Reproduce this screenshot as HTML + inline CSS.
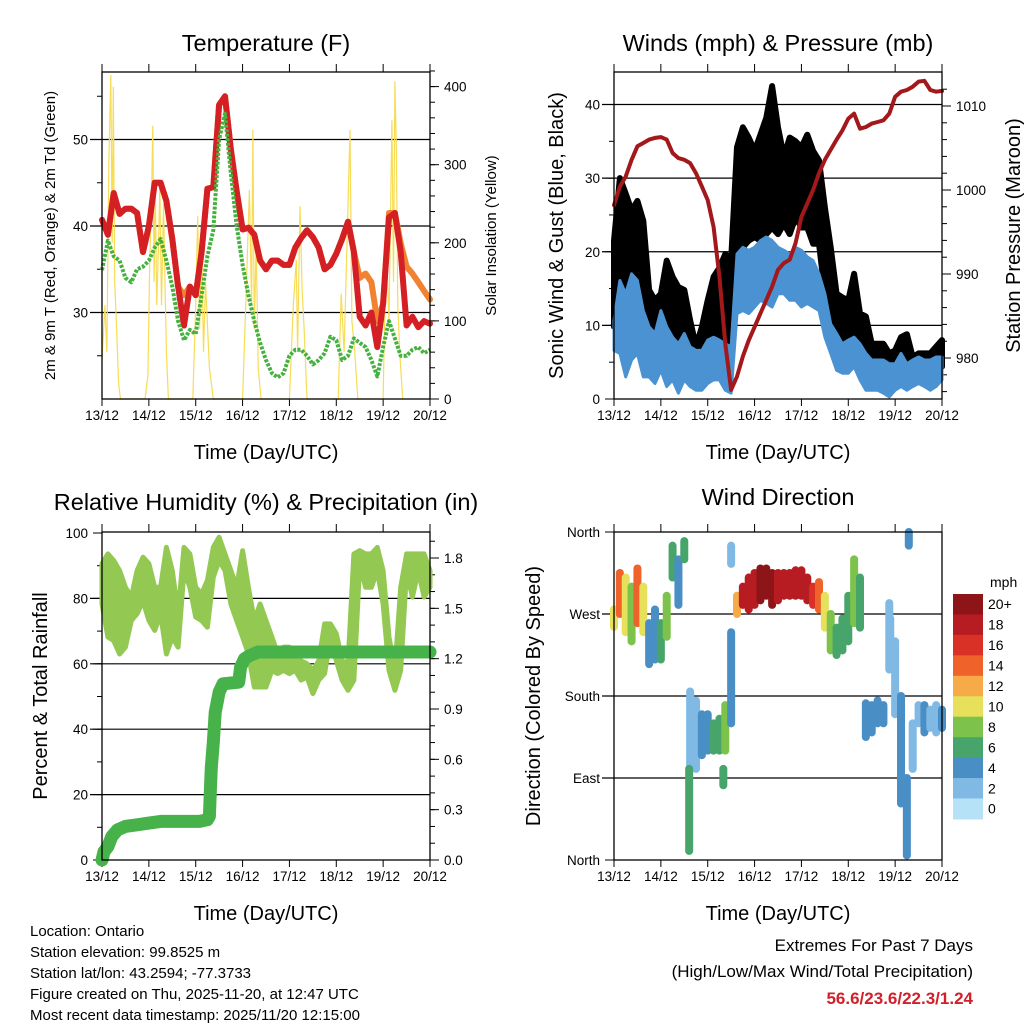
<!DOCTYPE html>
<html><head><meta charset="utf-8"><style>
html,body{margin:0;padding:0;background:#fff;}
svg{display:block;font-family:"Liberation Sans",sans-serif;}
</style></head><body>
<svg id="chart" width="1024" height="1024" viewBox="0 0 1024 1024" xmlns="http://www.w3.org/2000/svg">
<rect x="0" y="0" width="1024" height="1024" fill="#fff"/>
<g id="layer"></g>
<g font-size="15" fill="#000">
<text x="30" y="936">Location: Ontario</text>
<text x="30" y="957">Station elevation: 99.8525 m</text>
<text x="30" y="978">Station lat/lon: 43.2594; -77.3733</text>
<text x="30" y="999">Figure created on Thu, 2025-11-20, at 12:47 UTC</text>
<text x="30" y="1020">Most recent data timestamp: 2025/11/20 12:15:00</text>
</g>
<g text-anchor="end" font-size="17">
<text x="973" y="951">Extremes For Past 7 Days</text>
<text x="973" y="977">(High/Low/Max Wind/Total Precipitation)</text>
<text x="973" y="1004" font-weight="bold" fill="#d0202a">56.6/23.6/22.3/1.24</text>
</g>
</svg>
<script>
// ---------- data ----------
const dayLabels = ["13/12","14/12","15/12","16/12","17/12","18/12","19/12","20/12"];
const temp2m = [40.7,39,43.8,41.4,42,42,41.5,37,40,45,45,42.9,38.5,33,28.5,33,32,37,44.3,44.5,54,55,48.8,44,39.6,39.8,39,36,35,36,36,35.5,35.5,37.5,38.6,39.5,38.7,37.5,35,35.5,36.8,38.5,40.5,37,29.5,28.5,30,26,31,41,41.5,37,28.5,29.5,28.3,29,28.7];
const temp9m = [40.7,39,43.8,41.4,42,42,41.5,37,40,45,45,42.9,38.5,33,32,33,32,37,44.3,44.5,54,55,48.8,44,39.6,39.8,39,36,35,36,36,35.5,35.5,37.5,38.6,39.5,38.7,37.5,35,35.5,36.8,38.5,40.5,37,34,34.5,33.5,29,31,41.5,41.5,38,35.3,34.5,33.5,32.5,31.5];
const dew2m = [34.9,38.3,36.5,36,34,33.5,35,35.3,36,37.5,38.5,36,33,29,26.8,28,27.5,32,36.5,39.5,50,53,46,40,35.5,32,29,26.5,24.5,23,22.5,23,25,25.7,25.7,25,24,24.5,25.3,27.2,26.8,24.5,25,27,26.5,26,24.5,22.6,26,29,27,25,25,25.7,26,25.3,25.7];
const solarHours = [0,1.5,2.5,3.5,4.5,5.2,5.8,6.5,7.5,8.5,9.5, 22,23.5,24.5,25.5,26,26.7,27.3,28,29,29.6,30.5,31.5,33,34, 46.5,48,49,50,51,52,53,55,57, 72,74,75.5,76.6,77.3,78,79,80,81.5, 96,98,99.5,100.2,101.4,102.5,103.5,105, 121,122.5,124,125.5,127,128,129.5,131, 144,145.5,147,148.5,149.3,150,150.8,151.5,152.5,154];
const solarVals  = [50,120,60,300,415,200,400,150,90,20,0, 0,30,180,280,350,150,270,120,200,272,120,250,60,0, 0,120,234,90,204,60,150,40,0, 0,150,268,120,345,90,200,40,0, 0,120,178,60,247,140,90,0, 0,135,60,200,345,100,60,0, 0,200,100,357,150,407,315,120,60,0];
const pressure = [998.2,1000.4,1001.6,1003.6,1005.2,1005.6,1006,1006.2,1006.3,1006,1004.4,1003.8,1003.6,1003.2,1002,1000.4,998.8,995.6,989.7,981.7,976.2,977.8,980.2,982.1,983.7,985.3,986.9,988.5,990.5,991.3,991.7,993.7,996.8,998.4,1000,1002,1003.6,1004.8,1006,1007.1,1008.5,1009.1,1007.3,1007.5,1007.9,1008.1,1008.3,1009.1,1011.1,1011.7,1011.9,1012.3,1012.9,1013,1011.9,1011.7,1011.8];
const windHi = [10.7,16.1,14.3,17,16.1,12,9.8,8.9,12,9.8,8.4,7.5,8.9,7.1,6.6,6.6,8,8.4,8,7.5,7.1,19.7,20.6,20.2,20.6,21.5,22,21.5,20.6,20.2,19.7,20.6,20.2,19.3,18.8,17,14.3,10.2,8.9,7.5,8,8.4,7.5,6.2,5.3,5.3,5.3,4.8,4.8,6.2,4.8,5.3,5.7,5.3,5.3,5.7,5.7];
const windLo = [6.6,6.2,3,5.3,6.2,3,3,2.1,3.9,1.7,2.6,0.8,2.6,1.7,1.2,1.2,2.1,2.6,2.6,1.2,0.8,11.6,12,11.6,12.5,13.4,13,12.5,14.3,14.3,13.4,13.4,12.5,13,12.5,12,8.4,6.2,3.9,3.5,3.5,4.4,2.6,1.2,1.2,1.2,0.8,0.3,1.2,1.7,1.2,1.7,2.1,1.7,1.2,1.7,2.6];
const gustHi = [21.5,30,27.9,25.6,26.9,24.2,14.8,13.4,14.3,18.8,16.6,15.2,14.8,10.7,7.1,9.8,13.4,16.6,17.8,19.7,18.8,34.2,36.9,35.5,33.7,35.9,38.2,42.5,36.9,32.9,35.5,35,34.2,35.9,33.7,32.4,26,20.6,14.3,13.8,13.4,17,11.6,11.2,7.5,7.5,7.5,6.2,6.6,8.4,8.8,5.7,6.2,6.2,6.2,7.1,8];
const gustLo = [9.8,9.8,10.7,14.3,14.3,14.3,6.2,5.3,6.2,9.8,7.5,5.3,5.3,3.9,3,3.9,5.3,7.5,8,7.5,6.2,18.8,20.6,21.5,22,21.5,22.4,23.3,22.4,23.8,22.4,24.7,23.3,23.3,21.1,21.1,14.3,10.7,8.4,7.5,7.1,7.1,6.2,5.3,4.4,3.9,3.9,2.6,3,3.9,3.5,3,3.5,3,3,3.5,4.4];
const rhHi = [90.6,93.6,91.6,88.5,83.4,80.4,88.5,92.6,90.6,83.4,83.4,95.6,88.5,75.3,95.6,93.6,83.4,81.4,85.5,95.6,98.7,93.6,88.5,83.4,94.6,83.4,73.2,78.3,73.2,68.2,63,65.1,65.1,63,60.9,60,58,60.9,72.2,72.2,69.2,61,60,93.6,94.6,93.6,93.6,95.6,88.5,68.2,58,83.4,93.6,93.6,93.6,93.6,88.5];
const rhLo = [78.3,68.2,67.1,63,65.1,73.2,75.3,79.3,73.2,70.2,75.3,63,68.2,65.1,88.5,83.4,74.3,73.2,71.2,86.5,91.6,88.5,78.3,73.2,68.2,63,52.9,52.9,52.9,58,57,58,57,58,55,56,50.9,55,57,68.2,61,55,51.9,55,90.6,83.4,83.4,88.5,78.3,58,51.9,58,88.5,80.4,88.5,80.4,83.4];
const precipHours = [0,1,3,5,8,12,18,24,30,40,50,54,55,55.5,56,57,58,60,62,70,71,73,76,80,90,168];
const precipVals = [0,0.05,0.08,0.14,0.18,0.2,0.21,0.22,0.23,0.23,0.23,0.24,0.26,0.42,0.55,0.7,0.88,1.0,1.05,1.06,1.15,1.2,1.22,1.24,1.24,1.24];
const dirHours = [0,3,6,9,12,15,18,21,24,27,30,33,36,39,42,45,48,51,54,57,60,63,66,69,72,75,78,81,84,87,90,93,96,99,102,105,108,111,114,117,120,123,126,129,132,135,138,141,144,147,150,153,156,159,162,165,168, 38.5,56,60,141.5,151];
const dirLo = [256,270,250,240,260,250,215,220,220,245,310,280,330,100,100,115,120,120,120,120,150,270,280,275,280,285,290,280,285,290,290,290,290,285,280,275,255,230,225,230,240,260,255,135,140,150,150,209,160,62,5,100,150,140,145,140,145, 10,82,325,240,345];
const dirHi = [275,315,310,300,320,300,260,275,260,290,345,330,350,185,175,160,160,150,155,170,250,290,300,310,315,320,320,315,315,315,315,318,318,310,300,305,290,270,255,265,290,330,310,172,170,175,170,282,240,180,90,150,170,170,165,170,165, 100,100,345,265,360];
const dirSpd = [10,14,10,8,13,9,4,4,5,8,6,4,6,2,2,3,4,6,6,8,4,12,18,18,18,20,20,20,18,18,17,18,18,17,16,14,9,7,6,5,5,8,5,4,3,4,4,1,2,3,4,2,2,3,2,2,4, 6,5,2,1,4];
const cbLabels = ["0","2","4","6","8","10","12","14","16","18","20+"];
const cbColors = ["#b6e2f8","#7fb9e4","#4a8ec6","#47a56b","#7cc24b","#e6e05a","#f6ab48","#ef6229","#da3127","#b71c23","#8d1518"];

// ---------- helpers ----------
const NS = "http://www.w3.org/2000/svg";
const layer = document.getElementById("layer");
function mk(tag, attrs, parent){
  const e = document.createElementNS(NS, tag);
  for (const k in attrs) e.setAttribute(k, attrs[k]);
  (parent||layer).appendChild(e);
  return e;
}
function txt(x,y,s,size,anchor,parent,rot){
  const t = mk("text",{x:x,y:y,"font-size":size,"text-anchor":anchor||"middle",fill:"#000"},parent);
  if (rot) t.setAttribute("transform","rotate("+rot+" "+x+" "+y+")");
  t.textContent = s;
  return t;
}
function lin(d0,d1,r0,r1){ return v => r0 + (v-d0)*(r1-r0)/(d1-d0); }
function uniformT(n){ return i => i*168/(n-1); }

function makePanel(name, x0,y0,x1,y1){
  const g = mk("g",{});
  
  
  return {g:g, x0:x0,y0:y0,x1:x1,y1:y1, xs: lin(0,168,x0,x1)};
}
function frame(P, leftAxis, rightAxis, gridVals, gridScale){
  const g = P.g;
  gridVals.forEach(v=>{
    const y = gridScale(v);
    const l = mk("line",{x1:P.x0-12,x2:P.x1+0,y1:y,y2:y,stroke:"#000","stroke-width":1.2},g);
    
    
  });
  for (let d=0; d<=7; d++){
    const x = P.xs(d*24);
    mk("line",{x1:x,x2:x,y1:P.y1,y2:P.y1+7,stroke:"#000","stroke-width":1},g);
    mk("line",{x1:x,x2:x,y1:P.y0-8,y2:P.y0,stroke:"#000","stroke-width":1},g);
    const t = txt(x,P.y1+21,dayLabels[d],13.5,"middle",g);
    
    
  }
  const xt = txt((P.x0+P.x1)/2, P.y1+60, "Time (Day/UTC)", 20, "middle", g);
  
  
  if (leftAxis){
    const A = leftAxis;
    A.minor.forEach(v=>{ const y=A.s(v); mk("line",{x1:P.x0-5,x2:P.x0,y1:y,y2:y,stroke:"#000","stroke-width":1},g); });
    A.major.forEach((v,i)=>{ const y=A.s(v); mk("line",{x1:P.x0-9,x2:P.x0,y1:y,y2:y,stroke:"#000","stroke-width":1},g);
      const t = txt(P.x0-14,y+5,A.labels[i],13.5,"end",g);
      
       });
    const at = txt(A.tx, (P.y0+P.y1)/2, A.title, A.tsize, "middle", g, -90);
    
    
  }
  if (rightAxis){
    const A = rightAxis;
    A.minor.forEach(v=>{ const y=A.s(v); mk("line",{x1:P.x1,x2:P.x1+5,y1:y,y2:y,stroke:"#000","stroke-width":1},g); });
    A.major.forEach((v,i)=>{ const y=A.s(v); mk("line",{x1:P.x1,x2:P.x1+9,y1:y,y2:y,stroke:"#000","stroke-width":1},g);
      const t = txt(P.x1+14,y+5,A.labels[i],13.5,"start",g);
      
       });
    const at = txt(A.tx, (P.y0+P.y1)/2, A.title, A.tsize, "middle", g, -90);
    
    
  }
}
function border(P){
  const r = mk("rect",{x:P.x0,y:P.y0,width:P.x1-P.x0,height:P.y1-P.y0,fill:"none",stroke:"#000","stroke-width":1.3},P.g);
  
  
}
function title(P,s,y){
  const t = txt((P.x0+P.x1)/2, y, s, 23.5, "middle", P.g);
  
  
}
function linePath(P, times, vals, ys){
  return times.map((t,i)=>(i?"L":"M")+P.xs(t).toFixed(1)+","+ys(vals[i]).toFixed(1)).join("");
}
function bandPath(P, n, hi, lo, ys){
  const tf = uniformT(n);
  let d = "";
  for (let i=0;i<n;i++) d += (i?"L":"M")+P.xs(tf(i)).toFixed(1)+","+ys(hi[i]).toFixed(1);
  for (let i=n-1;i>=0;i--) d += "L"+P.xs(tf(i)).toFixed(1)+","+ys(lo[i]).toFixed(1);
  return d+"Z";
}
function range(a,b,step){ const r=[]; for(let v=a; v<=b+1e-9; v+=step) r.push(+v.toFixed(3)); return r; }

// ---------- Panel 1: temperature ----------
(function(){
  const P = makePanel("temperature-panel",102,72,430,399);
  const yT = lin(20,58,399,70.3);
  const yS = lin(0,400,399,86.6);
  title(P,"Temperature (F)",51);
  frame(P,
    {s:yT, major:[30,40,50], labels:["30","40","50"], minor:range(25,55,5), title:"2m & 9m T (Red, Orange) & 2m Td (Green)", tx:55, tsize:15},
    {s:yS, major:[0,100,200,300,400], labels:["0","100","200","300","400"], minor:range(0,420,20), title:"Solar Insolation (Yellow)", tx:496, tsize:15},
    [30,40,50], yT);
  let p = mk("path",{d:linePath(P,solarHours,solarVals,yS),fill:"none",stroke:"#f7dc55","stroke-width":1.2},P.g);
   
  const tu = uniformT(temp9m.length);
  p = mk("path",{d:linePath(P,temp9m.map((v,i)=>tu(i)),temp9m,yT),fill:"none",stroke:"#f08232","stroke-width":6,"stroke-linejoin":"round","stroke-linecap":"round"},P.g);
   
  const tr = uniformT(temp2m.length);
  p = mk("path",{d:linePath(P,temp2m.map((v,i)=>tr(i)),temp2m,yT),fill:"none",stroke:"#d42024","stroke-width":6,"stroke-linejoin":"round","stroke-linecap":"round"},P.g);
   
  const td = uniformT(dew2m.length);
  p = mk("path",{d:linePath(P,dew2m.map((v,i)=>td(i)),dew2m,yT),fill:"none",stroke:"#45b13f","stroke-width":4,"stroke-dasharray":"3 1.5","stroke-linejoin":"round"},P.g);
   
  border(P);
})();

// ---------- Panel 2: winds & pressure ----------
(function(){
  const P = makePanel("winds-pressure-panel",614,72,942,399);
  const yW = lin(0,40,399,104.5);
  const yP = lin(980,1010,358,106);
  title(P,"Winds (mph) & Pressure (mb)",51);
  frame(P,
    {s:yW, major:[0,10,20,30,40], labels:["0","10","20","30","40"], minor:range(0,44,5), title:"Sonic Wind & Gust (Blue, Black)", tx:563, tsize:20},
    {s:yP, major:[980,990,1000,1010], labels:["980","990","1000","1010"], minor:range(976,1012,2), title:"Station Pressure (Maroon)", tx:1020, tsize:20},
    [10,20,30,40], yW);
  let p = mk("path",{d:bandPath(P,gustHi.length,gustHi,gustLo,yW),fill:"#000",stroke:"#000","stroke-width":6,"stroke-linejoin":"round"},P.g);
   
  p = mk("path",{d:bandPath(P,windHi.length,windHi,windLo,yW),fill:"#4b92d2",stroke:"#4b92d2","stroke-width":3,"stroke-linejoin":"round"},P.g);
   
  const tp = uniformT(pressure.length);
  p = mk("path",{d:linePath(P,pressure.map((v,i)=>tp(i)),pressure,yP),fill:"none",stroke:"#a3181b","stroke-width":4,"stroke-linejoin":"round","stroke-linecap":"round"},P.g);
   
  border(P);
})();

// ---------- Panel 3: RH & precipitation ----------
(function(){
  const P = makePanel("humidity-precip-panel",102,532,430,860);
  const yR = lin(0,100,860,533);
  const yPr = lin(0,1.8,860,558);
  title(P,"Relative Humidity (%) & Precipitation (in)",510);
  frame(P,
    {s:yR, major:[0,20,40,60,80,100], labels:["0","20","40","60","80","100"], minor:range(0,100,10), title:"Percent & Total Rainfall", tx:47, tsize:20},
    {s:yPr, major:[0,0.3,0.6,0.9,1.2,1.5,1.8], labels:["0.0","0.3","0.6","0.9","1.2","1.5","1.8"], minor:range(0,1.9,0.1), title:"", tx:470, tsize:15},
    [20,40,60,80], yR);
  let p = mk("path",{d:bandPath(P,rhHi.length,rhHi,rhLo,yR),fill:"#93c953",stroke:"#93c953","stroke-width":5,"stroke-linejoin":"round"},P.g);
   
  p = mk("path",{d:linePath(P,precipHours,precipVals,yPr),fill:"none",stroke:"#48b24a","stroke-width":13,"stroke-linejoin":"round","stroke-linecap":"round"},P.g);
   
  border(P);
})();

// ---------- Panel 4: wind direction ----------
(function(){
  const P = makePanel("wind-direction-panel",614,532,942,860);
  const yD = lin(0,360,860,532);
  title(P,"Wind Direction",505);
  frame(P,
    {s:yD, major:[0,90,180,270,360], labels:["North","East","South","West","North"], minor:[], title:"Direction (Colored By Speed)", tx:540, tsize:20},
    null, [90,180,270], yD);
  for (let i=0;i<dirHours.length;i++){
    const x = P.xs(dirHours[i]);
    const k = Math.max(0,Math.min(10,Math.round(dirSpd[i]/2)));
    const y1 = yD(dirLo[i]), y2 = yD(dirHi[i]);
    const s = mk("line",{x1:x,x2:x,y1:y1,y2:y2,stroke:cbColors[k],"stroke-width":8,"stroke-linecap":"round"},P.g);
    
    
  }
  border(P);
  const cb = mk("g",{});
  
  
  const bh = 20.45, top = 594;
  for (let i=0;i<cbColors.length;i++){
    const idx = cbColors.length-1-i;
    const r = mk("rect",{x:953,y:top+i*bh,width:30,height:bh+0.5,fill:cbColors[idx]},cb);
    
    
    const t = txt(988,top+i*bh+bh/2+5,cbLabels[idx],14,"start",cb);
    
    
  }
  const u = txt(990,587,"mph",14,"start",cb);
  
  
})();
</script>
</body></html>
